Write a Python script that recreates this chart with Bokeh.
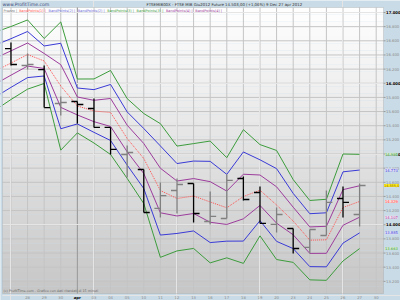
import numpy as np
from bokeh.plotting import figure
from bokeh.models import ColumnDataSource, Label, Range1d, BoxAnnotation
from bokeh.core.properties import value
from bokeh.embed import file_html
from bokeh.resources import INLINE

# ---- data -------------------------------------------------------------
# day index: -1 = 26 mar, 0 = 27 mar ... 21 = 27 apr, 22 = 30 apr
day_labels = ["26", "27", "28", "29", "30", "apr", "03", "04", "05", "10", "11", "12",
              "13", "16", "17", "18", "19", "20", "23", "24", "25", "26", "27", "30"]
band_days = list(range(-1, 22))
mid_line = [16166, 16286, 16406, 16315, 15961, 15679, 15608, 15587, 15219, 14936, 14484, 14371,
            14406, 14322, 14240, 14399, 14488, 14279, 14053, 13782, 13787, 14244, 14329]
green_up = [16718, 16802, 16895, 16633, 16867, 16060, 16061, 16181, 15783, 15572, 15429, 15112,
            15147, 15183, 14948, 15344, 15133, 15050, 14638, 14343, 14360, 15000, 14995]
blue_up = [16534, 16630, 16732, 16527, 16565, 15933, 15910, 15983, 15595, 15360, 15114, 14865,
           14900, 14896, 14712, 15029, 14918, 14793, 14443, 14156, 14169, 14748, 14773]
purple_up = [16350, 16458, 16569, 16421, 16263, 15806, 15759, 15785, 15407, 15148, 14799, 14618,
             14653, 14609, 14476, 14714, 14703, 14536, 14248, 13969, 13978, 14496, 14551]
purple_dn = [15982, 16114, 16243, 16209, 15659, 15552, 15457, 15389, 15031, 14724, 14169, 14124,
             14159, 14035, 14004, 14084, 14273, 14022, 13858, 13595, 13596, 13992, 14107]
blue_dn = [15798, 15942, 16080, 16103, 15357, 15425, 15306, 15191, 14843, 14512, 13854, 13877,
           13912, 13748, 13768, 13769, 14058, 13765, 13663, 13408, 13405, 13740, 13885]
green_dn = [15614, 15770, 15917, 15997, 15055, 15298, 15155, 14993, 14655, 14300, 13539, 13630,
            13665, 13461, 13532, 13454, 13843, 13508, 13468, 13221, 13214, 13488, 13663]

bar_days = list(range(0, 22))
bar_open = [16491, 16251, 16194, 15714, 15742, 15643, 15375, 14993, 14781, 14230, 14484, 14583,
            14046, 14088, 14654, 14456, 14004, 13947, 13679, 13848, 14371, 14145]
bar_high = [16576, 16420, 16251, 15813, 15742, 15784, 15375, 15120, 14781, 14597, 14654, 14583,
            14470, 14710, 14682, 14541, 14244, 13947, 13933, 14484, 14541, 14583]
bar_low = [16251, 16194, 15657, 15544, 15431, 15375, 14993, 14668, 14173, 14103, 14159, 14032,
           14004, 14088, 14343, 14018, 13890, 13594, 13594, 13848, 14103, 13975]
bar_close = [16265, 16265, 15657, 15728, 15700, 15375, 15064, 15021, 14173, 14413, 14569, 14159,
             14117, 14626, 14357, 14018, 14145, 13664, 13933, 14315, 14315, 14555]

y_ticks = list(range(13200, 17001, 200))
x_ticks = list(range(1, 23))

FONT = "DejaVu Sans"
BORDER = "#c9dbe6"
GRID = "#c4c4c4"
FRAME = "#9a9a9a"

# ---- geometry: inner chart box (pixels) and its data extent ------------
X0, X1 = -0.51, 22.44          # data x at inner box left / right
Y0, Y1 = 13028, 17071          # data y at inner box bottom / top
BL, BR, BT, BB = 2, 383, 7, 293  # inner box edges in pixels
PPX = (BR - BL) / (X1 - X0)
VPP = (Y1 - Y0) / (BB - BT)
px2x = lambda px: X0 + (px - BL) / PPX
px2y = lambda py: Y1 - (py - BT) * VPP

p = figure(width=400, height=300, title=None, toolbar_location=None,
           x_axis_location=None, y_axis_location=None, output_backend="svg",
           x_range=Range1d(px2x(0), px2x(400)), y_range=Range1d(px2y(300), px2y(0)),
           min_border_left=0, min_border_right=0, min_border_top=0, min_border_bottom=0)
p.background_fill_color = BORDER
p.border_fill_color = BORDER
p.outline_line_color = None

# vertical gradient of the inner chart box
n = 40
edges = np.linspace(Y0, Y1, n + 1)
cols = []
for k in range(n):
    t = (k + 0.5) / n  # 0 bottom -> 1 top
    g = int(round(198 + (255 - 198) * t))
    cols.append("#%02x%02x%02x" % (g, g, g))
p.quad(left=X0, right=X1, bottom=edges[:-1], top=edges[1:], fill_color=cols,
       line_color=None, level="image")

# grid lines at the ticks
gx = list(range(0, 23))
p.segment(x0=gx, x1=gx, y0=Y0, y1=Y1, line_color=GRID, line_width=1, level="underlay")
p.segment(x0=X0, x1=X1, y0=y_ticks, y1=y_ticks, line_color=GRID, line_width=1,
          level="underlay")
apr_x = day_labels.index("apr") - 1
p.segment(x0=[apr_x], x1=[apr_x], y0=Y0, y1=Y1, line_color=FRAME, line_width=1,
          level="underlay")

# bands
def band(vals, color, dash="solid"):
    p.line(band_days, vals, line_color=color, line_width=1, line_dash=dash)

band(green_up, "#3c9c3c")
band(green_dn, "#3c9c3c")
band(blue_up, "#3a3ad6")
band(blue_dn, "#3a3ad6")
band(purple_up, "#9c3c9c")
band(purple_dn, "#9c3c9c")
band(mid_line, "#ff5050", "1 1")

# OHLC bars
x = np.array(bar_days, dtype=float)
o = np.array(bar_open); c = np.array(bar_close)
color = np.where(c < o, "#000000", "#808080")
src = ColumnDataSource(dict(x=x, xl=x - 0.36, xr=x + 0.36, o=o, h=bar_high, l=bar_low, c=c,
                            color=color))
p.segment(x0="x", x1="x", y0="l", y1="h", line_color="color", line_width=1.3, source=src)
p.segment(x0="xl", x1="x", y0="o", y1="o", line_color="color", line_width=1.3, source=src)
p.segment(x0="x", x1="xr", y0="c", y1="c", line_color="color", line_width=1.3, source=src)

# border strip on the left and the frame of the inner box
p.add_layout(BoxAnnotation(left=px2x(0), right=X0, bottom=px2y(300), top=px2y(0),
                           fill_color=BORDER, fill_alpha=1.0, line_alpha=0))
p.add_layout(BoxAnnotation(left=X0, right=X1, bottom=Y0, top=Y1, fill_alpha=0,
                           line_color=FRAME, line_width=1))

# ---- price scale (right) ---------------------------------------------
fmt = lambda v: "{:,}".format(v).replace(",", ".")
p.segment(x0=X1, x1=px2x(385), y0=y_ticks, y1=y_ticks, line_color=FRAME, line_width=1)
minor_y = [v for v in y_ticks if v % 1000]
major_y = [v for v in y_ticks if v % 1000 == 0]
p.text(x=px2x(385.5), y=minor_y, text=[fmt(v) for v in minor_y], text_font=value(FONT),
       text_font_size=value("3.8px"), text_color="#8a8a8a", text_baseline="middle",
       text_align="left")
p.text(x=px2x(385.5), y=major_y, text=[fmt(v) for v in major_y], text_font=value(FONT),
       text_font_size=value("3.8px"), text_font_style="bold", text_color="#000000",
       text_baseline="middle", text_align="left")

# ---- date scale (bottom) ----------------------------------------------
lab = [day_labels[i + 1] for i in x_ticks]
norm = [i for i in x_ticks if day_labels[i + 1] != "apr"]
p.text(x=norm, y=px2y(296.8), text=[day_labels[i + 1] for i in norm], text_font=value(FONT),
       text_font_size=value("3.8px"), text_color="#8a8a8a", text_baseline="middle",
       text_align="center")
p.text(x=[apr_x], y=px2y(296.8), text=["apr"], text_font=value(FONT),
       text_font_size=value("3.8px"), text_font_style="bold", text_color="#000000",
       text_baseline="middle", text_align="center")

# ---- last value tags ----------------------------------------------------
for vals, fill, tc in [(green_up, "#d2ead0", "#3c9c3c"), (blue_up, "#dcdcf6", "#3a3ad6"),
                       (purple_up, "#f0dcf0", "#9c3c9c"), (mid_line, "#f8d8d8", "#ff4040"),
                       (purple_dn, "#f0dcf0", "#9c3c9c"), (blue_dn, "#dcdcf6", "#3a3ad6"),
                       (green_dn, "#d2ead0", "#3c9c3c")]:
    p.add_layout(Label(x=px2x(384.5), y=vals[-1], text=fmt(vals[-1]), text_font=FONT,
                       text_font_size="3.7px", text_color=tc, background_fill_color=fill,
                       text_baseline="middle"))
p.add_layout(Label(x=px2x(383.5), y=bar_close[-1], text=fmt(bar_close[-1]) + ",0",
                   text_font=FONT, text_font_size="3.4px", text_color="#806000",
                   background_fill_color="#ffee22", text_baseline="middle"))

# ---- header, legend row and footnote -----------------------------------
p.add_layout(Label(x=px2x(2), y=px2y(3.6), text="www.ProfitTime.com", text_font=FONT,
                   text_font_size="4.6px", text_color="#3a4a7a", text_baseline="middle"))
p.add_layout(Label(x=px2x(146), y=px2y(3.6),
                   text="FTSEMIB00X - FTSE MIB Giu2012 Future    14.503,00 (+1,06%)    9 Dec  27 apr 2012",
                   text_font=FONT, text_font_size="3.9px", text_color="#333333",
                   text_baseline="middle"))
legend_items = [("Prezzo", "#808080"), ("BandPoints(1)", "#ff5050"), ("BandPoints(2)", "#6a6ad6"),
                ("BandPoints(2)", "#6a6ad6"), ("BandPoints(3)", "#3c9c3c"),
                ("BandPoints(3)", "#3c9c3c"), ("BandPoints(4)", "#9c3c9c"),
                ("BandPoints(4)", "#9c3c9c")]
xpx = 3
for txt, col in legend_items:
    p.add_layout(Label(x=px2x(xpx), y=px2y(10), text=txt + " |", text_font=FONT,
                       text_font_size="3.5px", text_color=col, text_baseline="middle"))
    xpx += len(txt) * 1.95 + 4
p.add_layout(Label(x=px2x(3), y=px2y(290.3),
                   text="(c) ProfitTime.com - Grafico con dati ritardati di 15 minuti",
                   text_font=FONT, text_font_size="3.3px", text_color="#666666",
                   text_baseline="middle"))

open("out.html", "w").write(file_html(p, INLINE))
